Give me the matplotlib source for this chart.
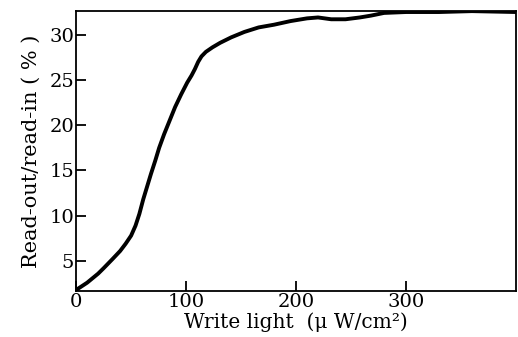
import matplotlib
matplotlib.use("Agg")
import matplotlib.pyplot as plt

# Write light (uW/cm^2) and read-out/read-in ratio (%)
write_light = [0, 10, 20, 25, 33, 40, 45, 50, 54, 57.5, 61, 64.5, 68, 72, 75.5,
               80, 85, 90, 95.5, 101, 105, 108, 111, 114, 118, 124, 131, 141,
               153, 166, 180, 195, 210, 220, 232, 245, 258, 268, 280, 300, 330,
               360, 400]
ratio = [1.8, 2.6, 3.6, 4.2, 5.2, 6.1, 6.9, 7.8, 8.9, 10.2, 11.8, 13.2, 14.6,
         16.1, 17.5, 19.0, 20.5, 22.0, 23.4, 24.7, 25.5, 26.2, 27.0, 27.6, 28.1,
         28.6, 29.1, 29.7, 30.3, 30.8, 31.1, 31.5, 31.8, 31.9, 31.7, 31.7, 31.9,
         32.1, 32.4, 32.5, 32.5, 32.6, 32.5]

x_ticks = [0, 100, 200, 300]
y_ticks = [5, 10, 15, 20, 25, 30]

plt.rcParams['font.family'] = ['DejaVu Serif']

fig = plt.figure(figsize=(5.18, 3.37), dpi=100)
ax = fig.add_axes([0.147, 0.137, 0.849, 0.83])

ax.plot(write_light, ratio, color='black', linewidth=2.8,
        solid_capstyle='round', solid_joinstyle='round')

ax.set_xlim(0, 400)
ax.set_ylim(1.7, 32.6)
ax.set_xticks(x_ticks)
ax.set_yticks(y_ticks)
ax.tick_params(direction='in', length=7, width=1.3, labelsize=14, pad=1.5)
for s in ax.spines.values():
    s.set_linewidth(1.3)

ax.set_xlabel('Write light  (μ W/cm²)', fontsize=14.5, labelpad=1)
ax.set_ylabel('Read-out/read-in ( % )', fontsize=15, labelpad=6)

fig.savefig('out.png', dpi=100)
